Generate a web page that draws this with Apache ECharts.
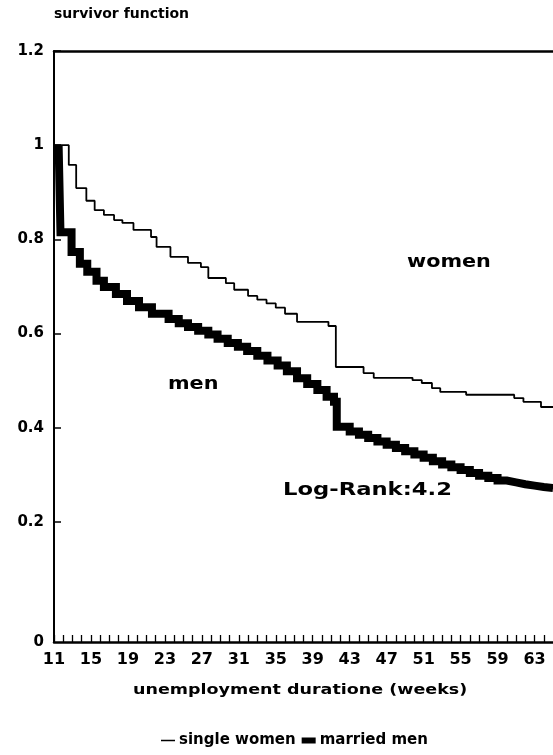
<!DOCTYPE html>
<html><head><meta charset="utf-8">
<script src="https://cdn.jsdelivr.net/npm/echarts@6/dist/echarts.min.js"></script>
<style>html,body{margin:0;padding:0;background:#fff}#c{width:553px;height:755px}</style>
</head><body><div id="c"></div>
<script>
// survival estimates (x = unemployment duration in weeks)
const womenWeeks = [11, 12.6, 13.4, 14.5, 15.4, 16.4, 17.5, 18.4, 19.6, 21.5, 22.1, 23.6, 25.5, 26.9, 27.7, 29.6, 30.5, 32, 33, 34, 35, 36, 37.3, 40.7, 41.5, 44.5, 45.6, 49.8, 50.8, 51.9, 52.8, 55.6, 60.8, 61.8, 63.7, 65];
const womenSurv  = [1.0, 0.958, 0.909, 0.882, 0.862, 0.852, 0.841, 0.835, 0.820, 0.805, 0.784, 0.763, 0.750, 0.741, 0.718, 0.707, 0.693, 0.680, 0.672, 0.664, 0.655, 0.642, 0.625, 0.616, 0.529, 0.516, 0.506, 0.501, 0.495, 0.484, 0.476, 0.470, 0.463, 0.455, 0.444, 0.444];
const menWeeks = [11.5, 11.7, 12.9, 13.8, 14.6, 15.6, 16.4, 17.7, 18.9, 20.2, 21.6, 23.4, 24.5, 25.5, 26.6, 27.7, 28.7, 29.8, 30.9, 31.9, 33, 34.1, 35.2, 36.2, 37.3, 38.4, 39.5, 40.5, 41.3, 41.6, 43, 44, 45, 46, 47, 48, 49, 50, 51, 52, 53, 54, 55, 56, 57, 58, 59, 60, 61, 62, 63, 64, 65];
const menSurv  = [1.0, 0.815, 0.773, 0.748, 0.731, 0.712, 0.699, 0.684, 0.669, 0.656, 0.642, 0.631, 0.622, 0.614, 0.606, 0.598, 0.589, 0.580, 0.572, 0.563, 0.553, 0.543, 0.532, 0.520, 0.505, 0.493, 0.480, 0.466, 0.455, 0.402, 0.392, 0.385, 0.378, 0.371, 0.364, 0.357, 0.350, 0.343, 0.336, 0.329, 0.322, 0.316, 0.310, 0.304, 0.298, 0.293, 0.288, 0.284, 0.280, 0.277, 0.274, 0.272, 0.270];
const seriesNames = ['single women', 'married men'];
const yTickValues = [0.2, 0.4, 0.6, 0.8, 1.0, 1.2];
const xMin = 11, xMax = 65, xStep = 4;
const yBase = -0.055, yMax = 1.2; // baseline of the plot sits a little below the 0.2-spaced grid, labelled "0"
const annotations = { title: 'survivor function', xName: 'unemployment duratione (weeks)', women: 'women', men: 'men', test: 'Log-Rank:4.2' };

const FONT = 'DejaVu Sans';
const pair = (xs, ys) => xs.map((x, i) => [x, ys[i]]);
const weekTicks = [];
for (let w = xMin; w <= xMax; w++) weekTicks.push(w);

const chart = echarts.init(document.getElementById('c'), null, { renderer: 'canvas' });
const txt = (text, x, y, size, sx) => ({
  type: 'text', x: x, y: y, scaleX: sx || 1, silent: true,
  style: { text: text, font: 'bold ' + size + 'px "' + FONT + '"', fill: '#000', textVerticalAlign: 'middle', textAlign: 'left' }
});

chart.setOption({
  animation: false,
  backgroundColor: '#fff',
  grid: { left: 54, top: 51, width: 506, bottom: 113, containLabel: false },
  xAxis: [{
    type: 'value', min: xMin, max: xMax, interval: xStep,
    axisLine: { show: true, onZero: false, lineStyle: { color: '#000', width: 2.5 } },
    axisTick: { show: true, inside: true, length: 7, customValues: weekTicks, lineStyle: { color: '#000', width: 1.3 } },
    axisLabel: { color: '#000', fontFamily: FONT, fontWeight: 'bold', fontSize: 16, margin: 10, showMaxLabel: false },
    splitLine: { show: false }
  }, {
    type: 'value', position: 'top', min: xMin, max: xMax,
    axisLine: { show: true, onZero: false, lineStyle: { color: '#000', width: 2.5 } },
    axisTick: { show: false }, axisLabel: { show: false }, splitLine: { show: false }
  }],
  yAxis: {
    type: 'value', min: yBase, max: yMax,
    axisLine: { show: true, onZero: false, lineStyle: { color: '#000', width: 2 } },
    axisTick: { show: true, inside: true, length: 7, customValues: yTickValues, lineStyle: { color: '#000', width: 1.5 } },
    axisLabel: {
      color: '#000', fontFamily: FONT, fontWeight: 'bold', fontSize: 15, margin: 10,
      customValues: [yBase].concat(yTickValues),
      formatter: v => (v < 0 ? '0' : String(+v.toFixed(1)))
    },
    splitLine: { show: false }
  },
  legend: {
    left: 156, top: 728, itemGap: 6, itemWidth: 14, itemHeight: 8,
    textStyle: { color: '#000', fontFamily: FONT, fontWeight: 'bold', fontSize: 15, padding: [0, 0, 0, -1] },
    data: [
      { name: seriesNames[0], icon: 'path://M0,0H0.01V8H0ZM0,3.2H14V4.8H0Z' },
      { name: seriesNames[1], icon: 'path://M0,0H0.01V8H0ZM0,1H14V7H0Z' }
    ]
  },
  series: [{
    name: seriesNames[0], type: 'line', step: 'end', showSymbol: false, symbol: 'none', clip: true,
    data: pair(womenWeeks, womenSurv),
    lineStyle: { color: '#000', width: 1.8 }, itemStyle: { color: '#000' }
  }, {
    name: seriesNames[1], type: 'line', step: 'end', showSymbol: false, symbol: 'none', clip: true,
    data: pair(menWeeks, menSurv),
    lineStyle: { color: '#000', width: 8, cap: 'butt', join: 'miter' }, itemStyle: { color: '#000' }
  }],
  graphic: [
    txt(annotations.title, 54, 14, 14, 1),
    txt(annotations.women, 407, 263, 17, 1.22),
    txt(annotations.men, 168, 385, 17, 1.22),
    txt(annotations.test, 283, 490, 18, 1.26),
    txt(annotations.xName, 133, 690, 14, 1.25)
  ]
});
</script>
</body></html>
